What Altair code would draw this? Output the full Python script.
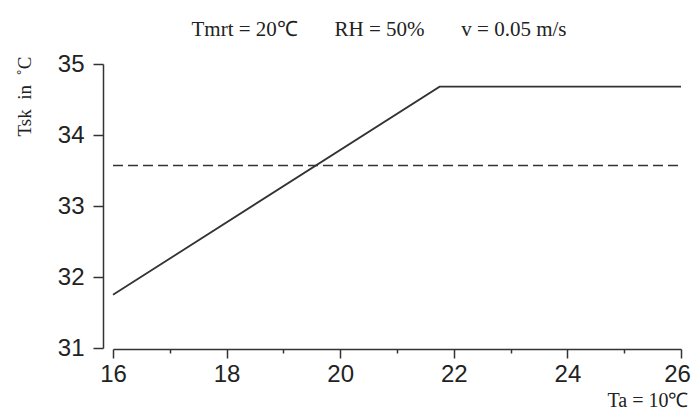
import altair as alt
import pandas as pd

# --- data ---
ta = [16, 21.75, 26]
tsk = [31.75, 34.68, 34.68]
ref_ta = [16, 26]
ref_tsk = [33.57, 33.57]
x_ticks = [16, 17, 18, 19, 20, 21, 22, 23, 24, 25, 26]
y_ticks = [31, 31.5, 32, 32.5, 33, 33.5, 34, 34.5, 35]
NB = "\u00a0"
title_text = "Tmrt = 20\u2103" + NB * 7 + "RH = 50%" + NB * 7 + "v = 0.05 m/s"
y_title = "Tsk" + NB * 2 + "in" + NB * 2 + "\u02daC"
x_title = "Ta = 10\u2103"

line_df = pd.DataFrame({"ta": ta, "tsk": tsk})
ref_df = pd.DataFrame({"ta": ref_ta, "tsk": ref_tsk})

INK = "#333333"

x_axis = alt.Axis(
    values=x_ticks,
    labelExpr="datum.value % 2 === 0 ? datum.label : ''",
    format="d",
    tickSize={"condition": {"test": "datum.value % 2 === 0", "value": 9}, "value": 4},
    labelOffset={"condition": {"test": "datum.value === 26", "value": -4}, "value": 0},
    tickColor=INK, tickWidth=1.5, domainColor=INK, domainWidth=1.5,
    labelFont="Liberation Sans", labelFontSize=24, labelColor="#222222",
    labelPadding=4, labelFlush=False, labelOverlap=False,
    grid=False, offset=1,
    title=x_title, titleFont="Liberation Serif", titleFontSize=20,
    titleFontWeight="normal", titleColor="#222222",
    titleAlign="right", titleBaseline="alphabetic", titleX=575, titleY=57,
)

y_axis = alt.Axis(
    values=y_ticks,
    labelExpr="datum.value % 1 === 0 ? datum.label : ''",
    format="d",
    tickSize={"condition": {"test": "datum.value % 1 === 0", "value": 10}, "value": 4},
    tickColor=INK, tickWidth=1.5, domainColor=INK, domainWidth=1.5,
    labelFont="Liberation Sans", labelFontSize=24, labelColor="#222222",
    labelPadding=9, labelFlush=False, labelOverlap=False,
    grid=False, offset=10,
    title=y_title, titleFont="Liberation Serif", titleFontSize=19,
    titleFontWeight="normal", titleColor="#222222",
    titleAngle=270, titleAlign="center", titleBaseline="middle",
    titleX=-79, titleY=32,
)

x_enc = alt.X("ta:Q", scale=alt.Scale(domain=[16, 26], nice=False, zero=False), axis=x_axis)
y_enc = alt.Y("tsk:Q", scale=alt.Scale(domain=[31, 35], nice=False, zero=False), axis=y_axis)

solid = alt.Chart(line_df).mark_line(color=INK, strokeWidth=1.8).encode(x=x_enc, y=y_enc)
dashed = alt.Chart(ref_df).mark_line(color=INK, strokeWidth=1.6, strokeDash=[10, 5]).encode(
    x="ta:Q", y="tsk:Q"
)

chart = (
    alt.layer(solid, dashed)
    .properties(
        width=568,
        height=284,
        padding={"left": 105, "top": 56, "right": 10, "bottom": 63},
        autosize=alt.AutoSizeParams(type="none"),
        title=alt.TitleParams(
            text=title_text, font="Liberation Serif", fontSize=21, fontWeight="normal",
            color="#222222", anchor="middle", dx=-18, dy=-8,
        ),
        background="white",
    )
    .configure_view(stroke=None)
)

chart.save("out.html", embed_options={"renderer": "svg", "actions": False})
